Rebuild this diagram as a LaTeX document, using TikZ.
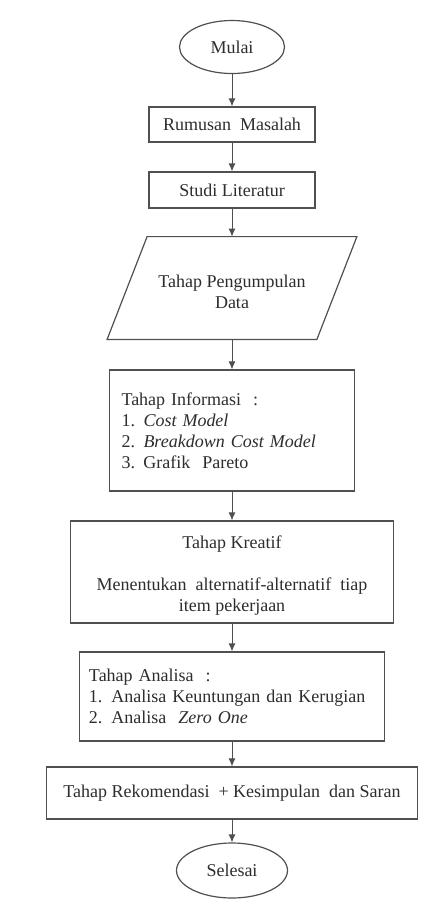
\documentclass[tikz,border=0pt]{standalone}
\usepackage{fontspec}
\setmainfont{Liberation Serif}
\usetikzlibrary{arrows.meta,shapes.geometric}
\definecolor{ink}{RGB}{45,45,45}
\definecolor{edge}{RGB}{80,80,80}
\begin{document}
\begin{tikzpicture}[x=0.5pt,y=-0.5pt,
  every node/.style={font=\fontsize{9}{10.5}\selectfont, text=ink},
  term/.style={ellipse, draw=edge, line width=0.6pt, inner sep=0pt},
  proc/.style={rectangle, draw=edge, line width=0.6pt, inner sep=0pt},
  flow/.style={draw=edge, line width=0.5pt, -{Latex[length=4pt,width=3.5pt]}},
]
\useasboundingbox[fill=white] (0,0) rectangle (439,902);

\node[term, minimum width=52.5pt, minimum height=26.5pt] (mulai) at (232,47) {Mulai};
\node[proc, minimum width=83pt, minimum height=17.5pt] (rumusan) at (232,124.5) {Rumusan\ \ Masalah};
\node[proc, minimum width=83pt, minimum height=18pt] (studi) at (232,190) {Studi Literatur};
\node[minimum width=124.5pt, minimum height=51pt, inner sep=0pt, align=center] (data) at (232,292) {Tahap Pengumpulan\\[0pt]Data};
\draw[draw=edge, line width=0.6pt] ([xshift=20pt,yshift=2pt]data.north west) -- ([yshift=2pt]data.north east) -- ([xshift=-20pt,yshift=2pt]data.south east) -- ([yshift=2pt]data.south west) -- cycle;

\node[proc, minimum width=122.5pt, minimum height=60.5pt, text width=110.5pt, inner xsep=6pt, align=left] (info) at (232,430.5)
  {Tahap Informasi\ \ :\\
   \makebox[11pt][l]{1.}\textit{Cost Model}\\
   \makebox[11pt][l]{2.}\textit{Breakdown Cost Model}\\
   \makebox[11pt][l]{3.}Grafik\ \ Pareto};

\node[proc, minimum width=161.5pt, minimum height=51pt, align=center] (kreatif) at (232,572)
  {\rule{0pt}{10pt}Tahap Kreatif\\[10.5pt]
   Menentukan\ \ alternatif-alternatif\ \ tiap\\
   item pekerjaan};

\node[proc, minimum width=152.5pt, minimum height=44.5pt, text width=143pt, inner xsep=4.75pt, align=left] (analisa) at (232,696.5)
  {Tahap Analisa\ \ :\\
   1. Analisa Keuntungan dan Kerugian\\
   2. Analisa\ \ \textit{Zero One}};

\node[proc, minimum width=185.5pt, minimum height=26pt] (rekom) at (232,793)
  {Tahap Rekomendasi\ \ + Kesimpulan\ \ dan Saran};

\node[term, minimum width=55.5pt, minimum height=27.5pt] (selesai) at (232,870.5) {Selesai};

\draw[flow] (mulai.south) -- (rumusan.north);
\draw[flow] (rumusan.south) -- (studi.north);
\draw[flow] (studi.south) -- ([yshift=2pt]data.north);
\draw[flow] ([yshift=2pt]data.south) -- (info.north);
\draw[flow] (info.south) -- (kreatif.north);
\draw[flow] (kreatif.south) -- (analisa.north);
\draw[flow] (analisa.south) -- (rekom.north);
\draw[flow] (rekom.south) -- (selesai.north);
\end{tikzpicture}
\end{document}
